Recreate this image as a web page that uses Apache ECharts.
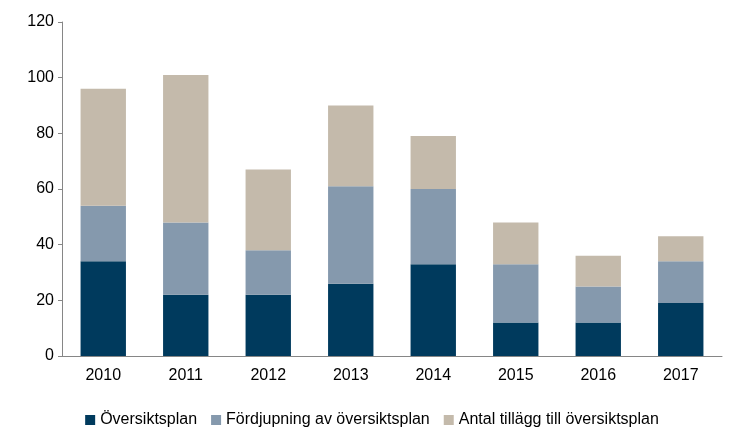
<!DOCTYPE html>
<html>
<head>
<meta charset="utf-8">
<script src="https://cdn.jsdelivr.net/npm/echarts@6/dist/echarts.min.js"></script>
<style>html,body{margin:0;padding:0;background:#fff}#chart{width:744px;height:447px}</style>
</head>
<body>
<div id="chart"></div>
<script>
// Data
const years = ['2010', '2011', '2012', '2013', '2014', '2015', '2016', '2017'];
const oversiktsplan = [34, 22, 22, 26, 33, 12, 12, 19];
const fordjupning = [20, 26, 16, 35, 27, 21, 13, 15];
const tillagg = [42, 53, 29, 29, 19, 15, 11, 9];

let chart = echarts.init(document.getElementById('chart'));

const font = 'Liberation Sans, Arial, sans-serif';

let options = {
    animation: false,
    color: ['#003a5d', '#8599ad', '#c4baab'],
    textStyle: { fontFamily: font },
    grid: { left: 62, right: 22, top: 22, bottom: 91 },
    legend: {
        bottom: 14,
        left: 'center',
        itemWidth: 10,
        itemHeight: 10,
        itemGap: 14,
        icon: 'rect',
        textStyle: { fontSize: 16, color: '#000', fontFamily: font },
        data: ['Översiktsplan', 'Fördjupning av översiktsplan', 'Antal tillägg till översiktsplan'],
    },
    xAxis: {
        type: 'category',
        data: years,
        axisTick: { show: false },
        axisLine: { lineStyle: { color: '#868686' } },
        axisLabel: { fontSize: 16, color: '#000', margin: 12 },
    },
    yAxis: {
        type: 'value',
        min: 0,
        max: 120,
        interval: 20,
        splitLine: { show: false },
        axisLine: { show: true, lineStyle: { color: '#868686' } },
        axisTick: { show: true, length: 4, lineStyle: { color: '#868686' } },
        axisLabel: { fontSize: 16, color: '#000', margin: 8 },
    },
    series: [
        { name: 'Översiktsplan', type: 'bar', stack: 'a', barWidth: '55%', data: oversiktsplan },
        { name: 'Fördjupning av översiktsplan', type: 'bar', stack: 'a', data: fordjupning },
        { name: 'Antal tillägg till översiktsplan', type: 'bar', stack: 'a', data: tillagg },
    ],
};

chart.setOption(options);
</script>
</body>
</html>
